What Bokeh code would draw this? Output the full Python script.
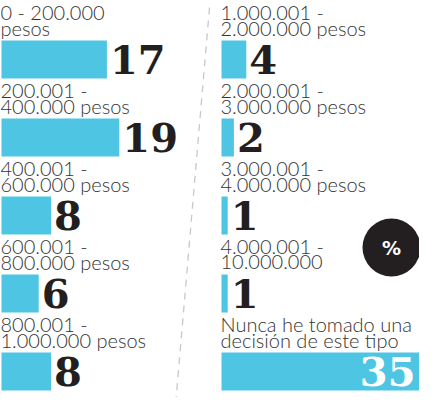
from bokeh.plotting import figure
from bokeh.models import Range1d, ColumnDataSource
from bokeh.core.properties import value
from bokeh.embed import file_html
from bokeh.resources import INLINE

# ---- data ----
categories = [
    "0 - 200.000\npesos",
    "200.001 -\n400.000 pesos",
    "400.001 -\n600.000 pesos",
    "600.001  -\n800.000 pesos",
    "800.001 -\n1.000.000 pesos",
    "1.000.001 -\n2.000.000 pesos",
    "2.000.001 -\n3.000.000 pesos",
    "3.000.001 -\n4.000.000 pesos",
    "4.000.001 -\n10.000.000",
    "Nunca he tomado una\ndecisión de este tipo",
]
values = [17, 19, 8, 6, 8, 4, 2, 1, 1, 35]
unit_label = "%"

# ---- layout / style ----
W, H = 419, 397
S = 6.2            # pixels per percentage point
X0 = -1.0 / S
X1 = X0 + W / S
def px2x(px):
    return X0 + px / S

TOP0, PITCH, BAR_H = 40, 78, 38
PER_COL = 5
COL_OFF = [0.0, px2x(221)]
BAR_COLOR = "#4EC6E3"
DARK = "#231F20"
LABEL_COLOR = "#333333"
LABEL_FONT = value("Lato Light, Lato")
VALUE_FONT = value("DejaVu Serif")

p = figure(width=W, height=H, x_range=Range1d(X0, X1), y_range=Range1d(H, 0),
           output_backend="svg", toolbar_location=None, min_border=0,
           x_axis_location=None, y_axis_location=None)
p.grid.visible = False
p.outline_line_color = None
p.background_fill_color = "white"
p.border_fill_color = "white"

# dashed divider
p.line(x=[px2x(209), px2x(175)], y=[7, 405], line_color="#C8C8C8", line_width=1.3,
       line_dash="7 6")

bar_y, bar_l, bar_r = [], [], []
l1x, l1y, l1t, l2y, l2t = [], [], [], [], []
vx, vy, vt, vcol, valign = [], [], [], [], []
for i, (cat, v) in enumerate(zip(categories, values)):
    col, row = divmod(i, PER_COL)
    off = COL_OFF[col]
    top = TOP0 + row * PITCH
    bar_y.append(top + BAR_H / 2)
    bar_l.append(off)
    bar_r.append(off + v)
    a, b = cat.split("\n")
    l1x.append(off - 1 / S)
    l1y.append(top - 29)
    l1t.append(a)
    l2y.append(top - 13)
    l2t.append(b)
    if v >= 30:
        vx.append(min(off + v, X1) - 4 / S); vcol.append("white"); valign.append("right")
    else:
        vx.append(off + v + 3 / S); vcol.append(DARK); valign.append("left")
    vy.append(top + BAR_H / 2)
    vt.append(str(v))

p.hbar(y=bar_y, left=bar_l, right=bar_r, height=BAR_H, fill_color=BAR_COLOR, line_color=None)

src1 = ColumnDataSource(dict(x=l1x, y=l1y, t=l1t))
src2 = ColumnDataSource(dict(x=l1x, y=l2y, t=l2t))
for src in (src1, src2):
    p.text(x="x", y="y", text="t", source=src, text_font=LABEL_FONT, text_font_size="20px",
           text_color=LABEL_COLOR, text_baseline="middle", text_align="left")

vsrc = ColumnDataSource(dict(x=vx, y=vy, t=vt, c=vcol, a=valign))
p.text(x="x", y="y", text="t", source=vsrc, text_font=VALUE_FONT, text_font_size="40px",
       text_font_style="bold", text_color="c", text_align="a", text_baseline="middle")

# unit badge
badge_y = TOP0 + 2 * PITCH + 51
p.scatter(x=[px2x(391)], y=[badge_y], marker="circle", size=58, fill_color=DARK, line_color=None)
p.text(x=[px2x(391)], y=[badge_y], text=[unit_label], text_font=value("DejaVu Sans"),
       text_font_size="19px", text_font_style="bold", text_color="white",
       text_align="center", text_baseline="middle")

open("out.html", "w").write(file_html(p, INLINE))
